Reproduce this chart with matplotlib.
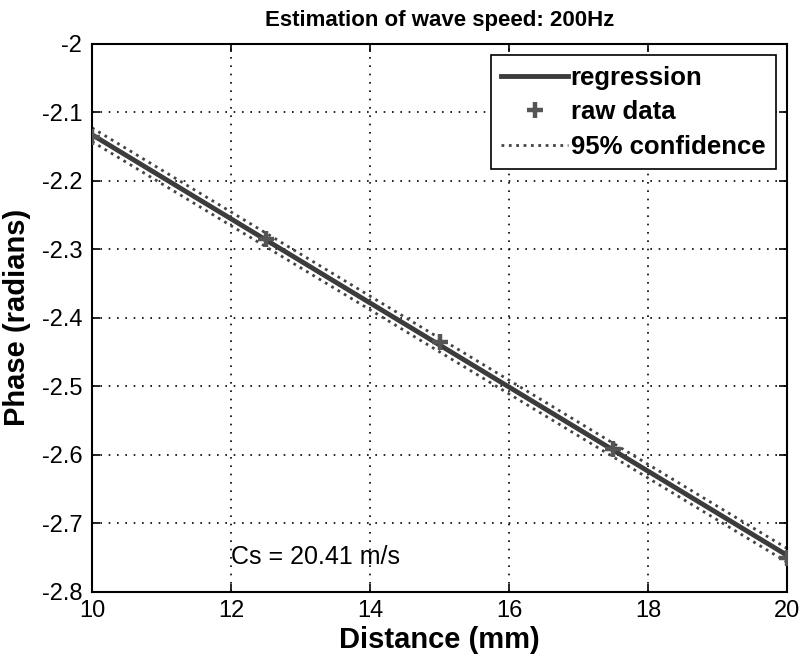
import numpy as np
import matplotlib
matplotlib.use("Agg")
import matplotlib.pyplot as plt

plt.rcParams['font.family'] = ['Liberation Sans', 'DejaVu Sans']

# raw phase measurements
distance = [10.0, 12.5, 15.0, 17.5, 20.0]  # mm
phase = [-2.136, -2.285, -2.436, -2.592, -2.750]  # radians
ci_half = 0.010  # half width of the 95% band
cs_text = "Cs = 20.41 m/s"

x_ticks = [10, 12, 14, 16, 18, 20]
y_ticks = [-2.8, -2.7, -2.6, -2.5, -2.4, -2.3, -2.2, -2.1, -2.0]
y_ticklabels = ['-2.8', '-2.7', '-2.6', '-2.5', '-2.4', '-2.3', '-2.2', '-2.1', '-2']

# linear fit
coef = np.polyfit(distance, phase, 1)
xf = np.linspace(10, 20, 50)
yf = np.polyval(coef, xf)

fig = plt.figure(figsize=(8, 6.62), dpi=100)
ax = fig.add_axes([0.115, 0.106, 0.869, 0.828])

ax.plot(xf, yf, color='#3c3c3c', lw=3.5, label='regression', zorder=3)
ax.plot(distance, phase, '+', color='#555555', ms=11, mew=3.2, label='raw data', zorder=4)
ax.plot(xf, yf + ci_half, ':', color='#444444', lw=2, label='95% confidence', zorder=2)
ax.plot(xf, yf - ci_half, ':', color='#444444', lw=2, zorder=2)

ax.set_xlim(10, 20)
ax.set_ylim(-2.8, -2.0)
ax.set_xticks(x_ticks)
ax.set_yticks(y_ticks)
ax.set_yticklabels(y_ticklabels)
ax.grid(True, color='black', linestyle=(0, (1, 4)), lw=1.2)
ax.tick_params(direction='in', top=True, right=True, labelsize=17, length=6, width=1.2)
ax.tick_params(axis='x', pad=6)
ax.tick_params(axis='y', pad=7)
for s in ax.spines.values():
    s.set_linewidth(1.5)

ax.set_title('Estimation of wave speed: 200Hz', fontsize=16, fontweight='bold', pad=13)
ax.set_xlabel('Distance (mm)', fontsize=21, fontweight='bold', labelpad=3)
ax.set_ylabel('Phase (radians)', fontsize=21, fontweight='bold', labelpad=8)

ax.text(12.0, -2.749, cs_text, fontsize=18, ha='left', va='center')

leg = ax.legend(loc='upper right', prop={'size': 18.5, 'weight': 'bold'}, fancybox=False,
                framealpha=1, edgecolor='black', handlelength=2.6, borderaxespad=0.45,
                handletextpad=0.1, labelspacing=0.42, borderpad=0.4)
leg.get_frame().set_linewidth(1.2)

fig.savefig('out.png', dpi=100)
